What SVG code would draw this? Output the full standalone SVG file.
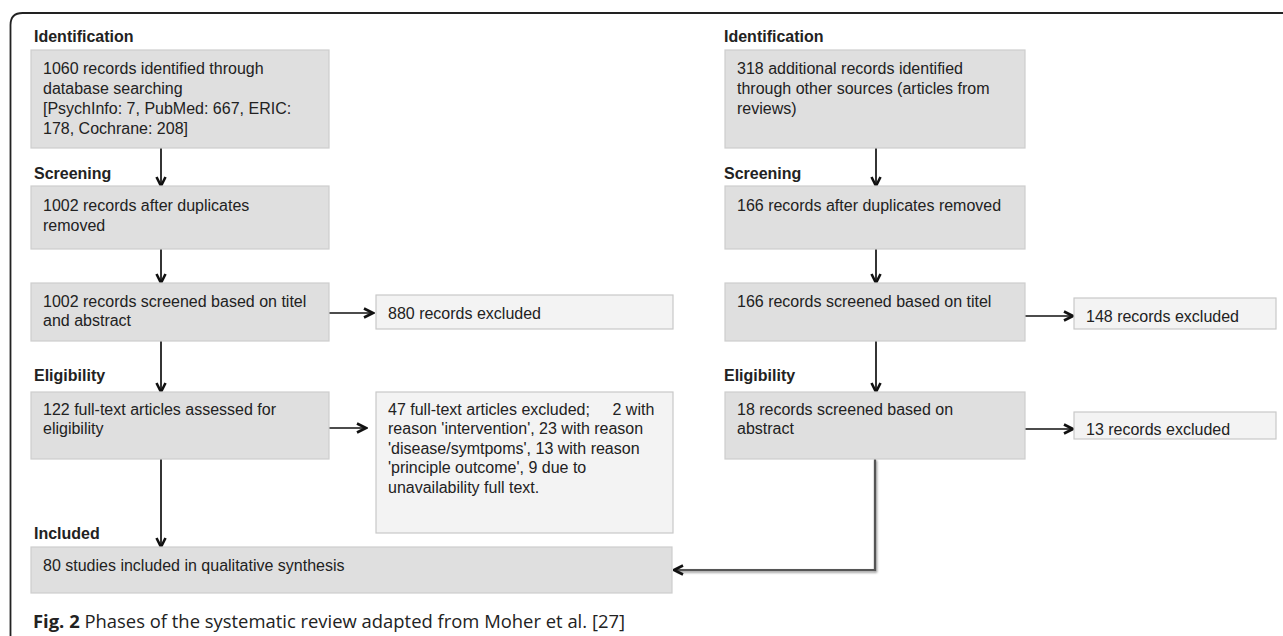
<svg xmlns="http://www.w3.org/2000/svg" width="1283" height="636" viewBox="0 0 1283 636">
<defs>
<style>
.t{font-family:"Liberation Sans",Arial,sans-serif;font-size:16px;fill:#222}
.h{font-family:"Liberation Sans",Arial,sans-serif;font-size:16px;font-weight:bold;fill:#222}
.main{fill:#dfdfdf;stroke:#cdcdcd;stroke-width:1.2}
.exc{fill:#f3f3f3;stroke:#c9c9c9;stroke-width:1.2}
.ar{stroke:#111;stroke-width:1.7;fill:none}
.gr{stroke:#555;stroke-width:2.2;fill:none}
.cap{font-family:"Open Sans","Noto Sans",sans-serif;font-size:18px;fill:#222}
</style>
<marker id="ah" viewBox="0 0 12 12" refX="10.5" refY="6" markerWidth="12" markerHeight="12" markerUnits="userSpaceOnUse" orient="auto">
<path d="M1.5,1.5 L10.5,6 L1.5,10.5" fill="none" stroke="#111" stroke-width="2.6" stroke-linejoin="miter"/>
</marker>
<filter id="sh" x="-5%" y="-5%" width="110%" height="110%">
<feGaussianBlur stdDeviation="1.2"/>
</filter>
</defs>
<rect width="1283" height="636" fill="#fff"/>
<path d="M10.5 636 V25 Q10.5 13 22.5 13 H1283" fill="none" stroke="#222" stroke-width="1.8"/>

<g id="headings">
<text class="h" x="34" y="41.5">Identification</text>
<text class="h" x="34" y="178.5">Screening</text>
<text class="h" x="34" y="380.5">Eligibility</text>
<text class="h" x="34" y="538.5">Included</text>
<text class="h" x="724" y="41.5">Identification</text>
<text class="h" x="724" y="178.5">Screening</text>
<text class="h" x="724" y="380.5">Eligibility</text>
</g>

<g id="connectors">
<line class="ar" x1="161" y1="148" x2="161" y2="186" marker-end="url(#ah)"/>
<line class="ar" x1="161" y1="249" x2="161" y2="283" marker-end="url(#ah)"/>
<line class="ar" x1="161" y1="341" x2="161" y2="392" marker-end="url(#ah)"/>
<line class="ar" x1="161" y1="459" x2="161" y2="547" marker-end="url(#ah)"/>
<line class="ar" x1="329" y1="313" x2="373" y2="313" marker-end="url(#ah)"/>
<line class="ar" x1="329" y1="428" x2="366" y2="428" marker-end="url(#ah)"/>
<line class="ar" x1="876" y1="148" x2="876" y2="186" marker-end="url(#ah)"/>
<line class="ar" x1="876" y1="249" x2="876" y2="283" marker-end="url(#ah)"/>
<line class="ar" x1="876" y1="341" x2="876" y2="392" marker-end="url(#ah)"/>
<line class="ar" x1="1025" y1="316" x2="1073" y2="316" marker-end="url(#ah)"/>
<line class="ar" x1="1025" y1="429" x2="1073" y2="429" marker-end="url(#ah)"/>
<path d="M875 459 V570 H676" fill="none" stroke="#999" stroke-width="2.4" filter="url(#sh)" transform="translate(1,1.5)"/>
<path class="gr" d="M875 459 V570 H674" marker-end="url(#ah)"/>
</g>

<g id="n1">
<rect class="main" x="31" y="50" width="298" height="98"/>
<text class="t" x="43" y="74">1060 records identified through</text>
<text class="t" x="43" y="94">database searching</text>
<text class="t" x="43" y="114">[PsychInfo: 7, PubMed: 667, ERIC:</text>
<text class="t" x="43" y="134">178, Cochrane: 208]</text>
</g>
<g id="n2">
<rect class="main" x="31" y="186" width="298" height="63"/>
<text class="t" x="43" y="211">1002 records after duplicates</text>
<text class="t" x="43" y="231">removed</text>
</g>
<g id="n3">
<rect class="main" x="31" y="283" width="298" height="58"/>
<text class="t" x="43" y="306.5">1002 records screened based on titel</text>
<text class="t" x="43" y="326">and abstract</text>
</g>
<g id="n4">
<rect class="exc" x="376" y="295" width="297" height="34"/>
<text class="t" x="388" y="318.5">880 records excluded</text>
</g>
<g id="n5">
<rect class="main" x="31" y="392" width="298" height="67"/>
<text class="t" x="43" y="414.5">122 full-text articles assessed for</text>
<text class="t" x="43" y="434">eligibility</text>
</g>
<g id="n6">
<rect class="exc" x="376" y="392" width="297" height="141"/>
<text class="t" x="388" y="414.5">47 full-text articles excluded;</text>
<text class="t" x="612.5" y="414.5">2 with</text>
<text class="t" x="388" y="434">reason 'intervention', 23 with reason</text>
<text class="t" x="388" y="453.5">'disease/symtpoms', 13 with reason</text>
<text class="t" x="388" y="473">'principle outcome', 9 due to</text>
<text class="t" x="388" y="492.5">unavailability full text.</text>
</g>
<g id="n7">
<rect class="main" x="31" y="547" width="641" height="46"/>
<text class="t" x="43" y="571">80 studies included in qualitative synthesis</text>
</g>

<g id="r1">
<rect class="main" x="725" y="50" width="300" height="98"/>
<text class="t" x="737" y="74">318 additional records identified</text>
<text class="t" x="737" y="94">through other sources (articles from</text>
<text class="t" x="737" y="114">reviews)</text>
</g>
<g id="r2">
<rect class="main" x="725" y="186" width="300" height="63"/>
<text class="t" x="737" y="211">166 records after duplicates removed</text>
</g>
<g id="r3">
<rect class="main" x="725" y="283" width="300" height="58"/>
<text class="t" x="737" y="306.5">166 records screened based on titel</text>
</g>
<g id="r4">
<rect class="exc" x="1074" y="298" width="202" height="31"/>
<text class="t" x="1086" y="321.5">148 records excluded</text>
</g>
<g id="r5">
<rect class="main" x="725" y="392" width="300" height="67"/>
<text class="t" x="737" y="414.5">18 records screened based on</text>
<text class="t" x="737" y="434">abstract</text>
</g>
<g id="r6">
<rect class="exc" x="1074" y="412" width="202" height="27"/>
<text class="t" x="1086" y="434.5">13 records excluded</text>
</g>

<text class="cap" x="33" y="628" textLength="592" lengthAdjust="spacingAndGlyphs"><tspan font-weight="bold">Fig. 2</tspan> Phases of the systematic review adapted from Moher et al. [27]</text>
</svg>
